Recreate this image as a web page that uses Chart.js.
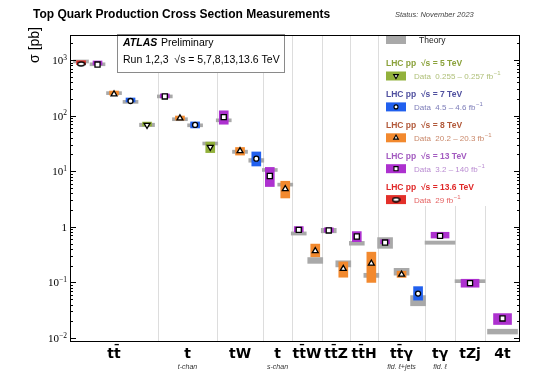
<!DOCTYPE html>
<html>
<head>
<meta charset="utf-8">
<script src="https://cdn.jsdelivr.net/npm/chart.js@4.4.0/dist/chart.umd.min.js"></script>
<style>
  html, body { margin: 0; padding: 0; background: #fff; }
  #wrap { width: 535px; height: 375px; }
</style>
</head>
<body>
<div id="wrap"><canvas id="xsec" width="535" height="375"></canvas></div>
<script>
/* ===== Top quark cross sections — ATLAS summary ===== */

// ── Data ────────────────────────────────────────────────────────────────────
const categories = ['tt\u0304', 't', 'tW', 't', 'tt\u0304W', 'tt\u0304Z', 'tt\u0304H', 'tt\u0304\u03b3', 't\u03b3', 'tZj', '4t'];
const subLabels  = ['', 't-chan', '', 's-chan', '', '', '', 'fid. \u2113+jets', 'fid. \u2113', '', ''];

const energies   = ['5', '7', '8', '13', '13.6'];
const lumiLabels = ['0.255 \u2013 0.257', '4.5 \u2013 4.6', '20.2 \u2013 20.3', '3.2 \u2013 140', '29'];

// measured sigma [pb], null = no measurement;  errors as [down, up]
const meas5   = [67.5, 27.1, null, null, null, null, null, null, null, null, null];
const err5    = [[2.7, 2.7], [5.5, 6.3]];
const theo5   = [68.2, 30.3];
const theoErr5 = [[4.8, 4.8], [0.7, 0.7]];

const meas7   = [182.9, 68, 16.8, null, null, null, null, 0.063, null, null, null];
const err7    = [[7.1, 7.1], [8, 9], [4.4, 5.4], null, null, null, null, [0.015, 0.021]];
const theo7   = [177, 64.6, 15.7, null, null, null, null, 0.048];
const theoErr7 = [[11, 10], [1.7, 2.6], [1.2, 1.2], null, null, null, null, [0.01, 0.01]];

const meas8   = [242.9, 89.6, 23.1, 4.8, 0.369, 0.176, 0.22, 0.139, null, null, null];
const err8    = [[8.6, 8.6], [6.3, 7.1], [3.6, 3.6], [1.5, 1.8], [0.08, 0.12], [0.052, 0.058], [0.12, 0.13], [0.016, 0.02]];
const theo8   = [252.9, 84.7, 22.4, 5.61, 0.245, 0.215, 0.133, 0.151];
const theoErr8 = [[14.5, 13.3], [3.8, 3.8], [1.5, 1.5], [0.22, 0.22], [0.025, 0.035], [0.025, 0.03], [0.01, 0.013], [0.016, 0.028]];

const meas13  = [829, 221, 94, 8.2, 0.88, 0.86, 0.67, 0.521, 0.688, 0.097, 0.0225];
const err13   = [[15, 15], [13, 13], [24, 28], [2.9, 3.5], [0.07, 0.13], [0.06, 0.1], [0.13, 0.15], [0.025, 0.06], [0.06, 0.11], [0.015, 0.017], [0.005, 0.005]];
const theo13  = [832, 217, 79.3, 10.3, 0.76, 0.86, 0.507, 0.495, 0.515, 0.102, 0.0134];
const theoErr13 = [[45, 40], [9, 9], [2, 2], [0.4, 0.4], [0.05, 0.05], [0.08, 0.08], [0.04, 0.04], [0.085, 0.145], [0.03, 0.04], [0.003, 0.003], [0.0016, 0.001]];

const meas136 = [850, null, null, null, null, null, null, null, null, null, null];
const err136  = [[27, 27]];
const theo136 = [924];
const theoErr136 = [[40, 32]];

const yTickPowers = [-2, -1, 0, 1, 2, 3];

// ── Look ────────────────────────────────────────────────────────────────────
const colWidths   = [5.87, 3.93, 3.07, 1.93, 2, 1.87, 1.87, 3.13, 2, 2, 2.33];
const boxColors   = ['#92b13c', '#2160ee', '#f2892e', '#ad31cf', '#e3302a'];
const headColors  = ['#8ba23b', '#4f4f9f', '#b2593a', '#a35bc0', '#e02828'];
const textColors  = ['#b0c07a', '#7c7cb8', '#c98769', '#b98bd1', '#e56262'];
const theoryColor = '#a9a9a9';

function ellipseMarker(w, h) {
  const c = document.createElement('canvas');
  c.width = w; c.height = h;
  const g = c.getContext('2d');
  g.beginPath();
  g.ellipse(w / 2, h / 2, w / 2 - 1, h / 2 - 1, 0, 0, Math.PI * 2);
  g.fillStyle = '#fff'; g.fill();
  g.lineWidth = 1.4; g.strokeStyle = '#000'; g.stroke();
  return c;
}
const markerStyles = [
  { pointStyle: 'triangle', rotation: 180, radius: 3.4 },
  { pointStyle: 'circle', rotation: 0, radius: 2.5 },
  { pointStyle: 'triangle', rotation: 0, radius: 3.4 },
  { pointStyle: 'rect', rotation: 0, radius: 3.6 },
  { pointStyle: ellipseMarker(9, 6), rotation: 0, radius: 3 },
];

// ── Build datasets ──────────────────────────────────────────────────────────
const meas = [meas5, meas7, meas8, meas13, meas136];
const errs = [err5, err7, err8, err13, err136];
const theo = [theo5, theo7, theo8, theo13, theo136];
const theoErrs = [theoErr5, theoErr7, theoErr8, theoErr13, theoErr136];
const energyOrder = [4, 3, 2, 1, 0];   // left to right inside a column

const colStart = colWidths.map((w, i) => colWidths.slice(0, i).reduce((a, b) => a + b, 0));
const xTotal = colWidths.reduce((a, b) => a + b, 0);
const xPos = meas.map(() => []);
const nInCol = [];
categories.forEach((c, ci) => {
  const present = energyOrder.filter(e => meas[e][ci] != null);
  const n = present.length;
  nInCol[ci] = n;
  const step = n > 1 ? Math.min(1.1, (colWidths[ci] - 0.9) / (n - 1)) : 0;
  const first = colStart[ci] + (colWidths[ci] - step * (n - 1)) / 2;
  present.forEach((e, k) => { xPos[e][ci] = first + k * step; });
});

const theoryNarrow = [], theoryWide = [];
const dataNarrow = energies.map(() => []), dataWide = energies.map(() => []);
const marks = energies.map(() => []);
meas.forEach((row, e) => {
  row.forEach((v, ci) => {
    if (v == null) return;
    const x = xPos[e][ci];
    const single = nInCol[ci] === 1;
    const t = theo[e][ci], te = theoErrs[e][ci];
    if (t != null) (single ? theoryWide : theoryNarrow).push({ x, y: [t - te[0], t + te[1]] });
    const er = errs[e][ci];
    (single ? dataWide[e] : dataNarrow[e]).push({ x, y: [v - er[0], v + er[1]] });
    marks[e].push({ x, y: v });
  });
});

const datasets = [
  { data: theoryNarrow, backgroundColor: theoryColor, barThickness: 15, minBarLength: 3, order: 3 },
  { data: theoryWide, backgroundColor: theoryColor, barThickness: 30, minBarLength: 3, order: 3 },
];
energies.forEach((en, e) => {
  if (dataNarrow[e].length) datasets.push({ data: dataNarrow[e], backgroundColor: boxColors[e], barThickness: 9, minBarLength: 4, order: 2 });
  if (dataWide[e].length) datasets.push({ data: dataWide[e], backgroundColor: boxColors[e], barThickness: 18, minBarLength: 4, order: 2 });
  datasets.push({
    type: 'line', data: marks[e], showLine: false, order: 1,
    pointStyle: markerStyles[e].pointStyle, rotation: markerStyles[e].rotation,
    pointRadius: markerStyles[e].radius, pointBorderWidth: 1.3,
    pointBackgroundColor: '#fff', pointBorderColor: '#000'
  });
});

// ── Decorations: grid, frame, ticks, labels, legend ─────────────────────────
function drawPow(ctx, p, xr, y) {
  if (p === 0) {
    ctx.font = '11px "Liberation Serif"';
    ctx.textAlign = 'right';
    ctx.fillText('1', xr, y + 4);
    return;
  }
  const ex = (p < 0 ? '\u2212' : '') + Math.abs(p);
  ctx.font = '7.5px "Liberation Serif"';
  const we = ctx.measureText(ex).width;
  ctx.textAlign = 'left';
  ctx.fillText(ex, xr - we, y - 0.5);
  ctx.font = '11px "Liberation Serif"';
  const wb = ctx.measureText('10').width;
  ctx.fillText('10', xr - we - wb, y + 4);
}

const decor = {
  id: 'decor',
  beforeDatasetsDraw(chart) {
    const { ctx, chartArea: a, scales: { x } } = chart;
    ctx.save();
    ctx.strokeStyle = '#dddddd';
    ctx.lineWidth = 1;
    colStart.slice(1).forEach(v => {
      const px = Math.round(x.getPixelForValue(v)) + 0.5;
      ctx.beginPath(); ctx.moveTo(px, a.top); ctx.lineTo(px, a.bottom); ctx.stroke();
    });
    ctx.restore();
  },
  afterDraw(chart) {
    const { ctx, chartArea: a, scales: { x, y } } = chart;
    const dp = Chart.helpers.drawPoint;
    ctx.save();

    // ATLAS box
    ctx.fillStyle = '#fff';
    ctx.fillRect(118, 35, 167, 38);
    ctx.strokeStyle = '#8a8a8a'; ctx.lineWidth = 1;
    ctx.strokeRect(117.5, 34.5, 167, 38);
    ctx.fillStyle = '#000'; ctx.textAlign = 'left'; ctx.textBaseline = 'alphabetic';
    ctx.font = 'italic bold 10.5px "Liberation Sans"';
    ctx.fillText('ATLAS', 123, 46);
    ctx.font = '10.5px "Liberation Sans"';
    ctx.fillText('Preliminary', 161, 46);
    ctx.fillText('Run 1,2,3  \u221As = 5,7,8,13,13.6 TeV', 123, 63);

    // legend
    ctx.fillStyle = '#fff';
    ctx.fillRect(380, 36, 139, 170);
    ctx.fillStyle = theoryColor;
    ctx.fillRect(386, 35, 20, 9);
    ctx.fillStyle = '#222'; ctx.font = '8.5px "Liberation Sans"';
    ctx.fillText('Theory', 419, 43);
    energies.forEach((en, e) => {
      const top = 59 + e * 30.9;
      ctx.fillStyle = headColors[e];
      ctx.font = 'bold 8.5px "Liberation Sans"';
      ctx.fillText('LHC pp  \u221As = ' + en + ' TeV', 386, top + 7);
      ctx.fillStyle = boxColors[e];
      ctx.fillRect(386, top + 12.5, 20, 9);
      ctx.fillStyle = '#fff'; ctx.strokeStyle = '#000'; ctx.lineWidth = 1.1;
      const ms = markerStyles[e];
      if (dp) dp(ctx, { pointStyle: ms.pointStyle, rotation: ms.rotation, radius: ms.radius * 0.8, borderWidth: 1.1 }, 396, top + 17);
      ctx.fillStyle = textColors[e];
      ctx.font = '8px "Liberation Sans"';
      const t = 'Data  ' + lumiLabels[e] + ' fb';
      ctx.fillText(t, 414, top + 20);
      const w = ctx.measureText(t).width;
      ctx.font = '6px "Liberation Sans"';
      ctx.fillText('\u22121', 414 + w + 0.5, top + 16);
    });

    // frame
    ctx.strokeStyle = '#000'; ctx.lineWidth = 1;
    ctx.strokeRect(a.left + 0.5, a.top + 0.5, a.right - a.left - 1, a.bottom - a.top - 1);

    // y ticks both sides (inward) + labels
    ctx.strokeStyle = '#000'; ctx.lineWidth = 1;
    for (let p = -3; p <= 3; p++) {
      for (let m = 1; m <= 9; m++) {
        const v = m * Math.pow(10, p);
        if (v < y.min || v > y.max) continue;
        const py = Math.round(y.getPixelForValue(v)) + 0.5;
        const len = m === 1 ? 6 : 3;
        ctx.beginPath();
        ctx.moveTo(a.left, py); ctx.lineTo(a.left + len, py);
        ctx.moveTo(a.right, py); ctx.lineTo(a.right - len, py);
        ctx.stroke();
      }
    }
    ctx.fillStyle = '#000';
    yTickPowers.forEach(p => drawPow(ctx, p, 67, y.getPixelForValue(Math.pow(10, p))));

    // y title
    ctx.save();
    ctx.translate(39, 27);
    ctx.rotate(-Math.PI / 2);
    ctx.textAlign = 'right';
    ctx.font = '14px "Liberation Sans"';
    ctx.fillText('\u03c3 [pb]', 0, 0);
    ctx.restore();

    // category labels
    categories.forEach((c, ci) => {
      const cx = x.getPixelForValue(colStart[ci] + colWidths[ci] / 2);
      ctx.textAlign = 'center';
      ctx.fillStyle = '#000';
      ctx.font = 'bold 14px "DejaVu Sans"';
      ctx.fillText(c, cx, 358);
      if (subLabels[ci]) {
        ctx.font = 'italic 7px "Liberation Sans"';
        ctx.fillStyle = '#333';
        ctx.fillText(subLabels[ci], cx, 369);
      }
    });

    // title and status
    ctx.textAlign = 'left';
    ctx.fillStyle = '#000';
    ctx.font = 'bold 12px "Liberation Sans"';
    ctx.fillText('Top Quark Production Cross Section Measurements', 33, 18);
    ctx.font = 'italic 7.5px "Liberation Sans"';
    ctx.fillStyle = '#444';
    ctx.fillText('Status: November 2023', 395, 17);

    ctx.restore();
  }
};

new Chart(document.getElementById('xsec'), {
  type: 'bar',
  data: { datasets },
  options: {
    responsive: false,
    animation: false,
    devicePixelRatio: 1,
    layout: { padding: { left: 70, top: 35, right: 15, bottom: 33 } },
    datasets: { bar: { grouped: false, borderWidth: 0 } },
    plugins: { legend: { display: false }, tooltip: { enabled: false } },
    scales: {
      x: { type: 'linear', min: 0, max: xTotal, offset: false, display: false },
      y: { type: 'logarithmic', min: 0.00848, max: 2816, display: false }
    }
  },
  plugins: [decor]
});
</script>
</body>
</html>
